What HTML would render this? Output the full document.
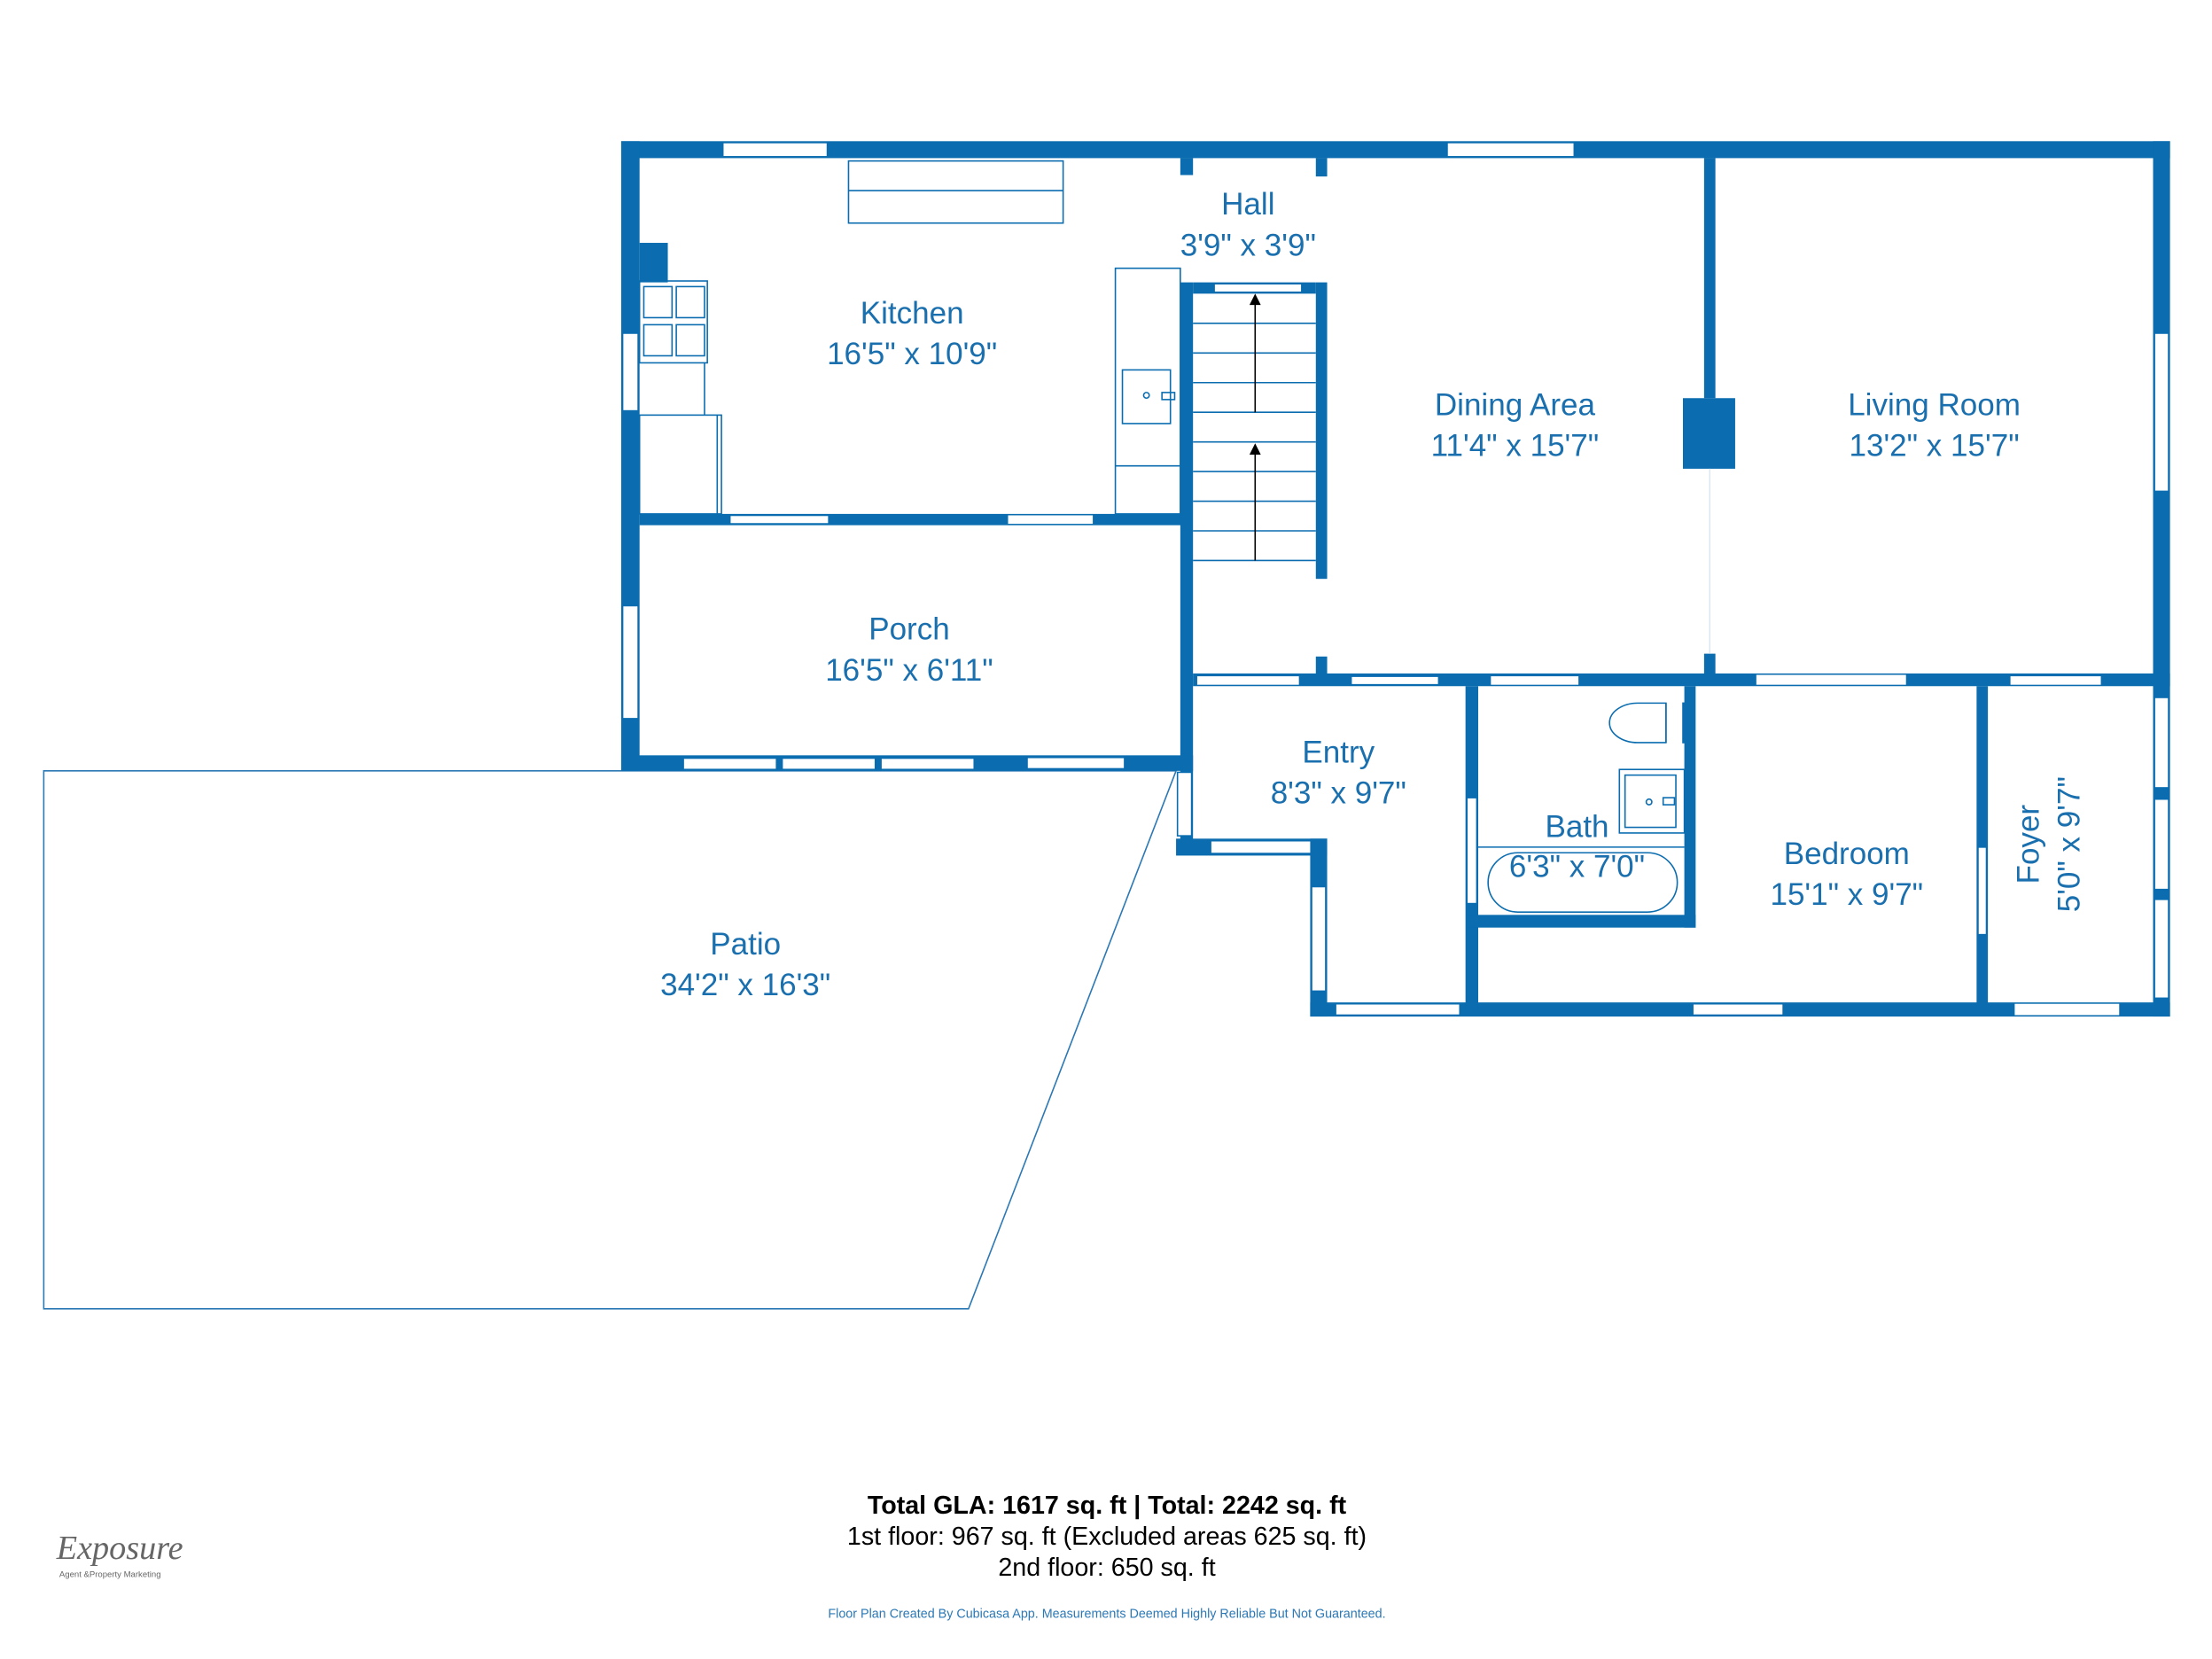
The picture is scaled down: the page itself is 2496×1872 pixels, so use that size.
<!DOCTYPE html>
<html><head><meta charset="utf-8"><style>
html,body{margin:0;padding:0;background:#fff}
svg{display:block}
.w{fill:#0b6db0}
.win{fill:#fff;stroke:#0b6db0;stroke-width:1}
.op{fill:#fff}
.t{font-family:"Liberation Sans",sans-serif;fill:#1a6fae;font-size:22px;text-anchor:middle}
.f{fill:none;stroke:#0b6db0;stroke-width:1}
</style></head><body>
<svg width="2496" height="1872" viewBox="0 0 1560 1170" xmlns="http://www.w3.org/2000/svg">
<g transform="scale(0.9957)">
<!-- patio -->
<polygon points="31,546 833,546 686,927 31,927" fill="#fff" stroke="#2b78b5" stroke-width="1"/>
<!-- walls -->
<rect class="w" x="440" y="100" width="1097" height="12"/>
<rect class="w" x="440" y="100" width="13" height="446"/>
<rect class="w" x="1525" y="100" width="12" height="620"/>
<rect class="w" x="453" y="364" width="385" height="8"/>
<rect class="w" x="440" y="535" width="405" height="11"/>
<rect class="w" x="453" y="172" width="20" height="28"/>
<!-- hall walls -->
<rect class="w" x="836" y="112" width="9" height="12"/>
<rect class="w" x="836" y="200" width="9" height="400"/>
<rect class="w" x="932" y="112" width="8" height="13"/>
<rect class="w" x="932" y="200" width="8" height="210"/>
<rect class="w" x="932" y="465" width="8" height="15"/>
<rect class="w" x="845" y="200" width="87" height="8"/>
<!-- dining/living divider -->
<rect class="w" x="1207" y="112" width="8" height="170"/>
<rect class="w" x="1192" y="282" width="37" height="50"/>
<rect class="w" x="1207" y="463" width="8" height="17"/>
<line x1="1211" y1="332" x2="1211" y2="463" stroke="#dde8f0" stroke-width="1"/>
<!-- mid horizontal wall -->
<rect class="w" x="845" y="477" width="692" height="9"/>
<!-- entry bump -->
<rect class="w" x="833" y="594" width="107" height="12"/>
<rect class="w" x="928" y="594" width="12" height="126"/>
<rect class="w" x="928" y="710" width="609" height="10"/>
<!-- bath -->
<rect class="w" x="1038" y="486" width="9" height="230"/>
<rect class="w" x="1040" y="648" width="161" height="9"/>
<rect class="w" x="1193" y="486" width="8" height="171"/>
<!-- foyer -->
<rect class="w" x="1400" y="486" width="8" height="230"/>
<!-- openings (white gaps) -->
<rect class="op" x="1244" y="478" width="106" height="7"/>
<rect class="op" x="848" y="479" width="72" height="6"/>
<rect class="op" x="1056" y="479" width="62" height="6"/>
<rect class="op" x="1424" y="479" width="64" height="6"/>
<rect class="op" x="714" y="365" width="60" height="6"/>
<rect class="op" x="728" y="537" width="68" height="7"/>
<rect class="op" x="1427" y="711" width="74" height="8"/>
<rect class="op" x="858" y="596" width="70" height="8"/>
<!-- windows -->
<rect class="win" x="512" y="101" width="74" height="10"/>
<rect class="win" x="1025" y="101" width="90" height="10"/>
<rect class="win" x="860" y="201" width="62" height="6"/>
<rect class="win" x="517" y="365" width="70" height="6"/>
<rect class="win" x="484" y="537" width="66" height="8"/>
<rect class="win" x="554" y="537" width="66" height="8"/>
<rect class="win" x="624" y="537" width="66" height="8"/>
<rect class="win" x="441" y="236" width="11" height="55"/>
<rect class="win" x="441" y="429" width="11" height="80"/>
<rect class="win" x="834" y="547" width="10" height="45"/>
<rect class="win" x="957" y="479" width="62" height="6"/>
<rect class="win" x="929" y="628" width="10" height="74"/>
<rect class="win" x="946" y="711" width="88" height="8"/>
<rect class="win" x="1199" y="711" width="64" height="8"/>
<rect class="win" x="1526" y="236" width="10" height="112"/>
<rect class="win" x="1526" y="494" width="10" height="64"/>
<rect class="win" x="1526" y="566" width="10" height="64"/>
<rect class="win" x="1526" y="637" width="10" height="70"/>
<rect class="win" x="1039" y="565" width="7" height="75"/>
<rect class="win" x="1401" y="600" width="6" height="62"/>
<!-- kitchen fixtures -->
<rect class="f" x="601" y="114" width="152" height="44"/>
<line class="f" x1="601" y1="135" x2="753" y2="135"/>
<rect class="f" x="453" y="199" width="48" height="58"/>
<rect class="f" x="456" y="203" width="20" height="22"/><rect class="f" x="479" y="203" width="20" height="22"/>
<rect class="f" x="456" y="230" width="20" height="22"/><rect class="f" x="479" y="230" width="20" height="22"/>
<line class="f" x1="499" y1="257" x2="499" y2="294"/>
<rect class="f" x="453" y="294" width="58" height="70"/>
<line class="f" x1="508" y1="294" x2="508" y2="364"/>
<rect class="f" x="790" y="190" width="46" height="174"/>
<line class="f" x1="790" y1="330" x2="836" y2="330"/>
<rect class="f" x="795" y="262" width="34" height="38"/>
<circle class="f" cx="812" cy="280" r="2"/>
<rect class="f" x="823" y="278" width="9" height="5"/>
<!-- stairs -->
<g stroke="#0b6db0" stroke-width="1">
<line x1="845" y1="229" x2="932" y2="229"/><line x1="845" y1="250" x2="932" y2="250"/>
<line x1="845" y1="271" x2="932" y2="271"/><line x1="845" y1="292" x2="932" y2="292"/>
<line x1="845" y1="313" x2="932" y2="313"/><line x1="845" y1="334" x2="932" y2="334"/>
<line x1="845" y1="355" x2="932" y2="355"/><line x1="845" y1="376" x2="932" y2="376"/>
<line x1="845" y1="397" x2="932" y2="397"/>
</g>
<line x1="889" y1="292" x2="889" y2="214" stroke="#000" stroke-width="1"/>
<polygon points="889,208 885,216 893,216" fill="#000"/>
<line x1="889" y1="397" x2="889" y2="320" stroke="#000" stroke-width="1"/>
<polygon points="889,314 885,322 893,322" fill="#000"/>
<!-- bath fixtures -->
<path class="f" d="M1180,498 L1160,498 A20,14 0 0 0 1160,526 L1180,526 Z"/>
<line class="f" x1="1180" y1="498" x2="1180" y2="526"/>
<rect class="f" x="1192" y="498" width="1" height="28"/>
<rect class="f" x="1147" y="545" width="46" height="45"/>
<rect class="f" x="1151" y="549" width="36" height="37"/>
<circle class="f" cx="1168" cy="568" r="2"/>
<rect class="f" x="1178" y="565" width="8" height="5"/>
<line class="f" x1="1047" y1="600" x2="1193" y2="600"/>
<rect class="f" x="1054" y="604" width="134" height="42" rx="21" ry="21"/>
<!-- labels -->
<text class="t" x="884" y="152">Hall</text>
<text class="t" x="884" y="181">3'9" x 3'9"</text>
<text class="t" x="646" y="229">Kitchen</text>
<text class="t" x="646" y="258">16'5" x 10'9"</text>
<text class="t" x="1073" y="294">Dining Area</text>
<text class="t" x="1073" y="323">11'4" x 15'7"</text>
<text class="t" x="1370" y="294">Living Room</text>
<text class="t" x="1370" y="323">13'2" x 15'7"</text>
<text class="t" x="644" y="453">Porch</text>
<text class="t" x="644" y="482">16'5" x 6'11"</text>
<text class="t" x="948" y="540">Entry</text>
<text class="t" x="948" y="569">8'3" x 9'7"</text>
<text class="t" x="1117" y="593">Bath</text>
<text class="t" x="1117" y="621">6'3" x 7'0"</text>
<text class="t" x="1308" y="612">Bedroom</text>
<text class="t" x="1308" y="641">15'1" x 9'7"</text>
<text class="t" x="528" y="676">Patio</text>
<text class="t" x="528" y="705">34'2" x 16'3"</text>
<g transform="translate(1450,598) rotate(-90)">
<text class="t" x="0" y="-6">Foyer</text>
<text class="t" x="0" y="23">5'0" x 9'7"</text>
</g>
<!-- footer -->
<text x="784" y="1072" font-family="Liberation Sans,sans-serif" font-size="18" font-weight="bold" text-anchor="middle" fill="#000">Total GLA: 1617 sq. ft | Total: 2242 sq. ft</text>
<text x="784" y="1094" font-family="Liberation Sans,sans-serif" font-size="18" text-anchor="middle" fill="#000">1st floor: 967 sq. ft (Excluded areas 625 sq. ft)</text>
<text x="784" y="1116" font-family="Liberation Sans,sans-serif" font-size="18" text-anchor="middle" fill="#000">2nd floor: 650 sq. ft</text>
<text x="784" y="1146" font-family="Liberation Sans,sans-serif" font-size="9" text-anchor="middle" fill="#2b78b5">Floor Plan Created By Cubicasa App. Measurements Deemed Highly Reliable But Not Guaranteed.</text>
<text x="40" y="1104" font-family="Liberation Serif,serif" font-style="italic" font-size="24" fill="#666">Exposure</text>
<text x="42" y="1117" font-family="Liberation Sans,sans-serif" font-size="6" fill="#666">Agent &amp;Property Marketing</text>
</g>
</svg>
</body></html>
